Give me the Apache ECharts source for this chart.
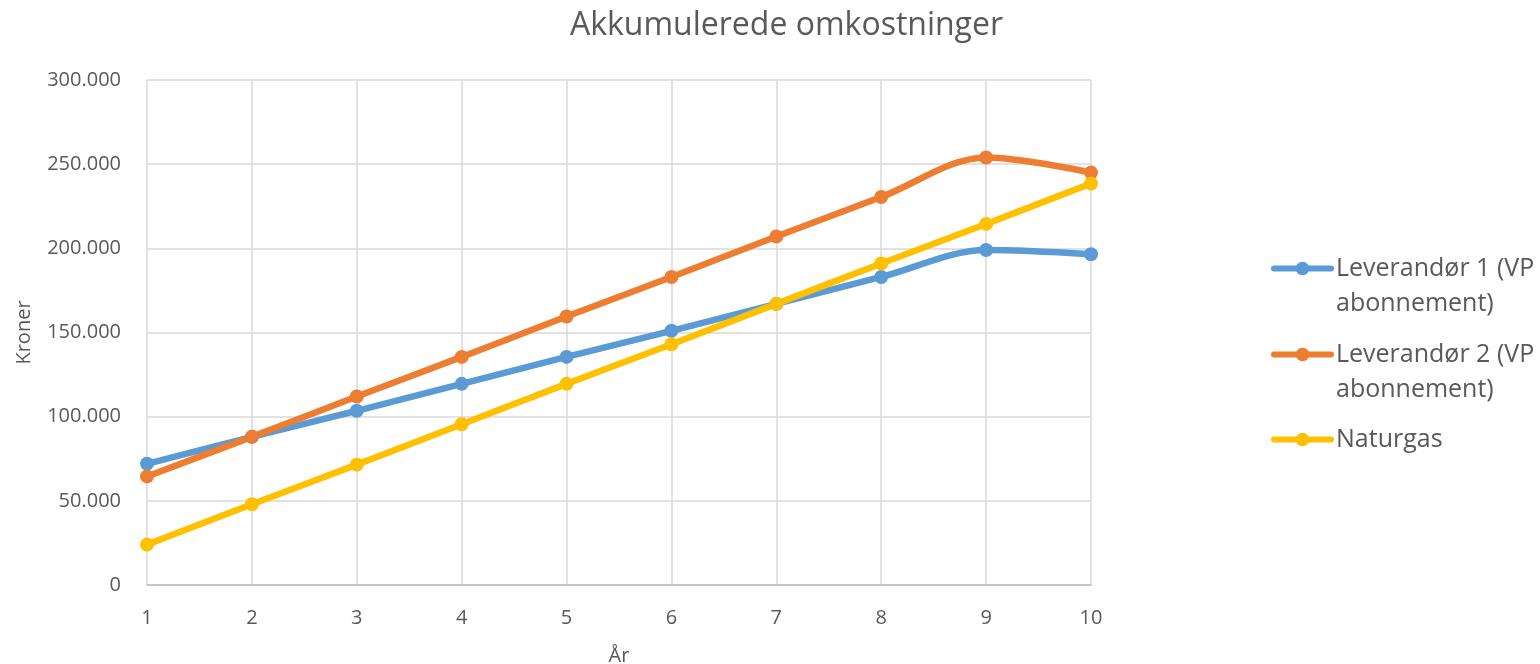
<!DOCTYPE html>
<html>
<head>
<meta charset="utf-8">
<script src="https://cdn.jsdelivr.net/npm/echarts@6/dist/echarts.min.js"></script>
<style>
  html, body { margin: 0; padding: 0; background: #fff; }
  #chart { width: 1540px; height: 664px; }
</style>
</head>
<body>
<div id="chart"></div>
<script>
// aar paa x-aksen
const years = ['1', '2', '3', '4', '5', '6', '7', '8', '9', '10'];
// akkumulerede omkostninger i kroner
const leverandoer1 = [72000, 88000, 103500, 119500, 135500, 151000, 167000, 183000, 199000, 196500];
const leverandoer2 = [64500, 88000, 112000, 135500, 159500, 183000, 207000, 230500, 254000, 245000];
const naturgas = [24000, 48000, 71500, 95500, 119500, 143000, 167000, 191000, 214500, 238500];
const seriesNames = ['Leverandør 1 (VP\nabonnement)', 'Leverandør 2 (VP\nabonnement)', 'Naturgas'];

const font = '"Open Sans", "Noto Sans", sans-serif';
const grey = '#595959';

function kroner(v) {
  return String(v).replace(/\B(?=(\d{3})+(?!\d))/g, '.');
}

// en legend pr. serie, saa ikonet kan staa ud for foerste linje
// (tom linje foran teksten, legenden centrerer ikonet paa midterste linje)
function legendFor(name, top, twoLines) {
  return {
    data: [name],
    orient: 'vertical',
    left: 1271,
    top: top,
    padding: 0,
    itemWidth: 57,
    itemHeight: 17,
    selectedMode: false,
    formatter: function (n) { return twoLines ? ' \n' + n : n; },
    lineStyle: { width: 6, cap: 'round' },
    textStyle: { fontFamily: font, fontSize: 25, color: grey, lineHeight: 35 }
  };
}

function lineSeries(name, data, color) {
  return {
    name: name,
    type: 'line',
    data: data,
    smooth: 0.33,
    symbol: 'circle',
    symbolSize: 14,
    itemStyle: { color: color },
    lineStyle: { color: color, width: 6.5, cap: 'round' }
  };
}

let chart = echarts.init(document.getElementById('chart'));
chart.setOption({
  animation: false,
  backgroundColor: '#fff',
  title: {
    text: 'Akkumulerede omkostninger',
    left: 565,
    top: 5,
    textStyle: { fontFamily: font, fontSize: 32, fontWeight: 'normal', color: grey }
  },
  legend: [
    legendFor(seriesNames[0], 216, true),
    legendFor(seriesNames[1], 302, true),
    legendFor(seriesNames[2], 422, false)
  ],
  grid: { left: 147, right: 449, top: 80, bottom: 79, outerBoundsMode: 'none' },
  xAxis: {
    type: 'category',
    data: years,
    boundaryGap: false,
    name: 'År',
    nameLocation: 'middle',
    nameGap: 61,
    nameTextStyle: { fontFamily: font, fontSize: 20, color: grey },
    axisLine: { lineStyle: { color: '#bfbfbf', width: 1.5 } },
    axisTick: { show: false },
    axisLabel: { fontFamily: font, fontSize: 20, color: grey, margin: 23 },
    splitLine: { show: true, lineStyle: { color: '#d9d9d9', width: 1.5 } }
  },
  yAxis: {
    type: 'value',
    min: 0,
    max: 300000,
    interval: 50000,
    name: 'Kroner',
    nameLocation: 'middle',
    nameGap: 113,
    nameTextStyle: { fontFamily: font, fontSize: 20, color: grey },
    axisLine: { show: false },
    axisTick: { show: false },
    axisLabel: { fontFamily: font, fontSize: 20, color: grey, margin: 26, formatter: kroner },
    splitLine: { lineStyle: { color: '#d9d9d9', width: 1.5 } }
  },
  series: [
    lineSeries(seriesNames[0], leverandoer1, '#5B9BD5'),
    lineSeries(seriesNames[1], leverandoer2, '#ED7D31'),
    lineSeries(seriesNames[2], naturgas, '#FFC000')
  ]
});
</script>
</body>
</html>
